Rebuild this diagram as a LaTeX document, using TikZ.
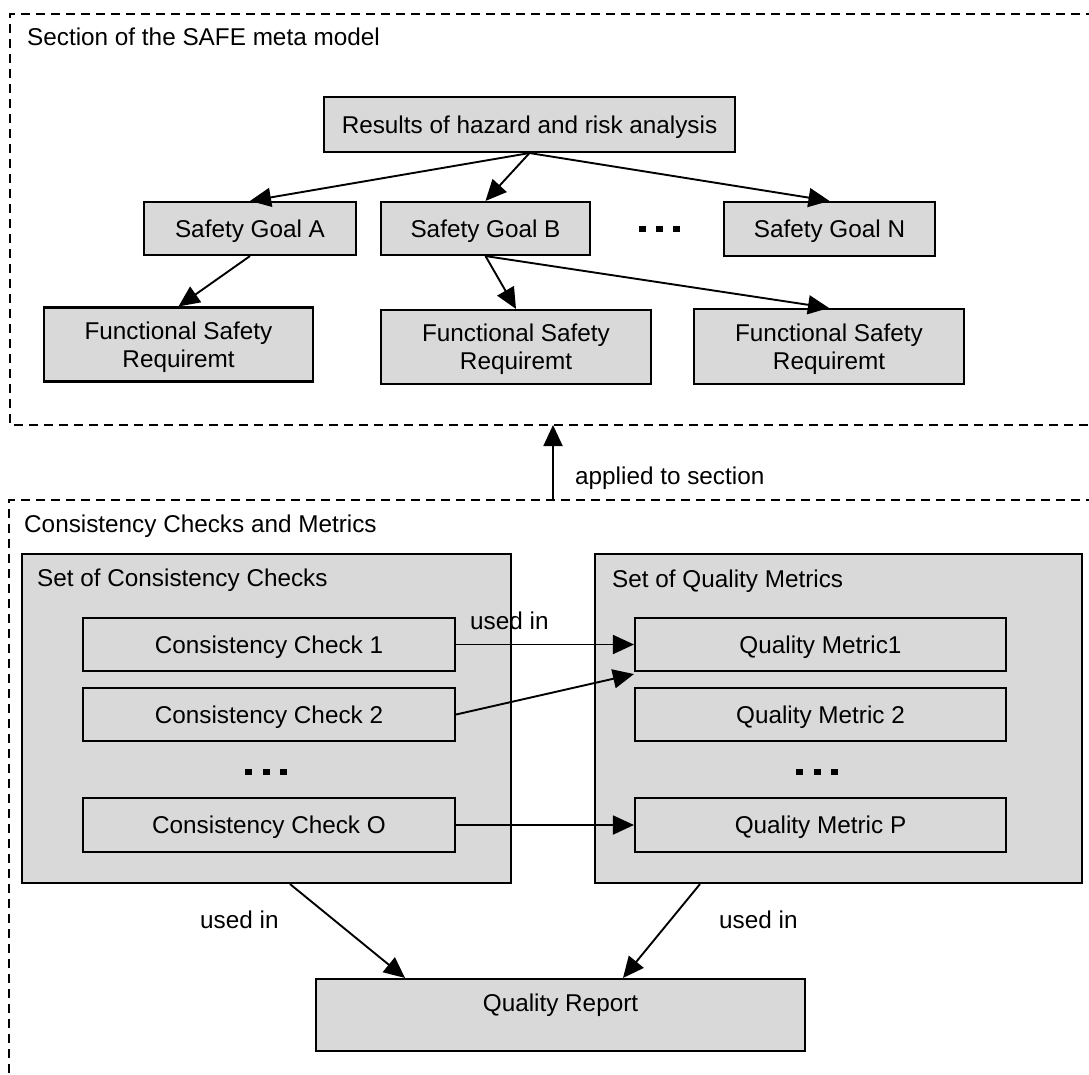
\documentclass[tikz,border=0pt]{standalone}
\usepackage{fontspec}
\usetikzlibrary{arrows.meta}
\newfontfamily\diagfont{Liberation Sans}
\newcommand\diafont{\diagfont\fontsize{24.3}{28}\selectfont}
\definecolor{boxgray}{RGB}{217,217,217}
\begin{document}
\begin{tikzpicture}[x=1pt, y=-1pt,
  box/.style={draw=black, line width=2.1pt, fill=boxgray, inner sep=0pt,
    font=\diafont, align=center},
  oneline/.style={text height=17.5pt, text depth=0pt},
  twoline/.style={text depth=0pt},
  setbox/.style={draw=black, line width=2.1pt, fill=boxgray, inner sep=0pt},
  arr/.style={-{Triangle[length=21pt,width=19pt]}, line width=1.9pt},
  region/.style={line width=2.9pt, dash pattern=on 9pt off 6pt},
  lbl/.style={font=\diafont, inner sep=0pt, anchor=base west},
  dotsq/.style={fill=black}]
\useasboundingbox (0,0) rectangle (1089,1074);
\clip (0,0) rectangle (1089,1074);

% ---------- upper region: section of the meta model ----------
\draw[region] (1110,14) -| (10,425) -- (1110,425);
\node[lbl] (sectitle) at (27,45) {Section of the SAFE meta model};

\node[box, oneline, minimum width=411pt, minimum height=55pt] (results) at (529.5,124.5)
  {Results of hazard and risk analysis};
\node[box, oneline, minimum width=212pt, minimum height=53pt] (sgA) at (250,228.5) {Safety Goal A};
\node[box, oneline, minimum width=209pt, minimum height=53pt] (sgB) at (485.5,228.5) {Safety Goal B};
\node[box, oneline, minimum width=211pt, minimum height=54pt] (sgN) at (829.5,229) {Safety Goal N};
\node[inner sep=0pt] (sgdots) at (659.5,229) {};
\foreach \dx in {-17,0,17}
  \fill[dotsq, shift={(sgdots)}] (\dx-3.5,-3) rectangle (\dx+3.5,3);

\node[box, twoline, minimum width=269pt, minimum height=74pt] (fsr1) at (178.5,344.5)
  {Functional Safety\\Requiremt};
\node[box, twoline, minimum width=270pt, minimum height=74pt] (fsr2) at (516,347)
  {Functional Safety\\Requiremt};
\node[box, twoline, minimum width=270pt, minimum height=75pt] (fsr3) at (829,346.5)
  {Functional Safety\\Requiremt};

\draw[arr] (results.south) -- (sgA.north);
\draw[arr] (results.south) -- (sgB.north);
\draw[arr] (results.south) -- (sgN.north);
\draw[arr] (sgA.south) -- (fsr1.north);
\draw[arr] (sgB.south) -- (fsr2.north);
\draw[arr] (sgB.south) -- (fsr3.north);

% ---------- link between the regions ----------
\coordinate (secBottom) at (553,425);
\coordinate (ccmTop) at (553,500);
\draw[arr] (ccmTop) -- (secBottom);
\node[lbl] (applied) at (575,484) {applied to section};

% ---------- lower region: checks and metrics ----------
\draw[region] (1110,500) -| (9,1110);
\node[lbl] (ccmtitle) at (24,532) {Consistency Checks and Metrics};

\node[setbox, minimum width=489pt, minimum height=329pt] (setcc) at (266.5,718.5) {};
\node[setbox, minimum width=487pt, minimum height=329pt] (setqm) at (838.5,718.5) {};
\node[lbl] (setcctitle) at (37,586) {Set of Consistency Checks};
\node[lbl] (setqmtitle) at (612,587) {Set of Quality Metrics};

\node[box, oneline, minimum width=372pt, minimum height=53pt] (cc1) at (269,644.5) {Consistency Check 1};
\node[box, oneline, minimum width=372pt, minimum height=53pt] (cc2) at (269,714.5) {Consistency Check 2};
\node[box, oneline, minimum width=372pt, minimum height=54pt] (cco) at (269,825) {Consistency Check O};
\node[inner sep=0pt] (ccdots) at (266,772) {};
\foreach \dx in {-17.5,0,17.5}
  \fill[dotsq, shift={(ccdots)}] (\dx-3.5,-3) rectangle (\dx+3.5,3);

\node[box, oneline, minimum width=371pt, minimum height=53pt] (qm1) at (820.5,644.5) {Quality Metric1};
\node[box, oneline, minimum width=371pt, minimum height=53pt] (qm2) at (820.5,714.5) {Quality Metric 2};
\node[box, oneline, minimum width=371pt, minimum height=54pt] (qmp) at (820.5,825) {Quality Metric P};
\node[inner sep=0pt] (qmdots) at (817,772) {};
\foreach \dx in {-17.5,0,17.5}
  \fill[dotsq, shift={(qmdots)}] (\dx-3.5,-3) rectangle (\dx+3.5,3);

\node[box, minimum width=489pt, text height=32.5pt, text depth=39.5pt] (qr)
  at (560.5,1015) {Quality Report};

\draw[arr] (cc1.east) -- (qm1.west);
\draw[arr] (cc2.east) -- ([yshift=-2pt]qm1.south west);
\draw[arr] (cco.east) -- (qmp.west);
\node[lbl] (usedA) at (470,629) {used in};

\draw[arr] ([xshift=23.5pt]setcc.south) -- ([xshift=-155.5pt]qr.north);
\draw[arr] ([xshift=-138.5pt]setqm.south) -- ([xshift=62.5pt]qr.north);
\node[lbl] (usedB) at (200,928) {used in};
\node[lbl] (usedC) at (719,928) {used in};
\end{tikzpicture}
\end{document}
